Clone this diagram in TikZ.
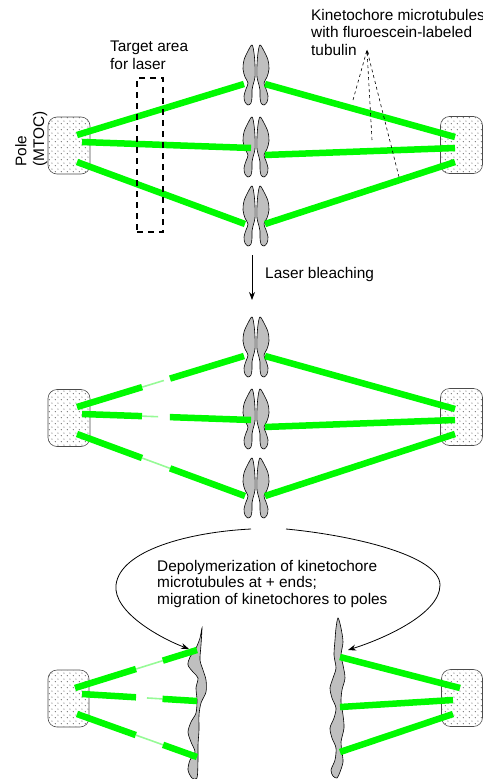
\documentclass[tikz,border=0pt]{standalone}
\usepackage{fontspec}
\setmainfont{Liberation Sans}
\usetikzlibrary{calc,arrows.meta,patterns.meta}

% sparse dot texture for the spindle poles
\tikzdeclarepattern{
  name=poledots,
  type=uncolored,
  bottom left={(0pt,0pt)},
  top right={(6pt,6pt)},
  tile size={(6pt,6pt)},
  code={
    \pgfpathcircle{\pgfpoint{1.5pt}{1.5pt}}{0.65pt}
    \pgfpathcircle{\pgfpoint{4.5pt}{4.5pt}}{0.65pt}
    \pgfusepath{fill}
  }
}

\definecolor{mtgreen}{RGB}{0,250,0}
\definecolor{fadegreen}{RGB}{150,250,150}

\tikzset{
  mt/.style={draw=mtgreen, line width=6.5pt},
  faded/.style={draw=fadegreen, line width=1.6pt},
  pole/.style={draw=black!70, line width=0.6pt, rounded corners=9pt,
    preaction={fill=white}, pattern=poledots, pattern color=black!65,
    minimum width=42pt, minimum height=57pt, inner sep=0pt},
  chromfill/.style={draw=black, line width=0.6pt, fill=gray!50},
  txt/.style={font=\fontsize{15.4}{17.5}\selectfont, align=left, inner sep=0pt},
  pointer/.style={-{Stealth[length=8pt,width=6pt]}, line width=0.8pt},
  guide/.style={line width=0.6pt, dash pattern=on 3pt off 3pt},
  laserbox/.style={draw, line width=2.2pt, dash pattern=on 6pt off 5pt,
    minimum width=26pt, minimum height=154pt, inner sep=0pt},
  chromatid/.pic={
    \path[chromfill] plot[smooth cycle, tension=0.55] coordinates {
      (-4,0) (-8,6) (-12,15) (-13,24) (-11,32) (-8,38) (-10,44) (-12,51)
      (-11,57) (-8,60) (-5,58) (-4,52) (-4,45) (-3,40) (-1,32) (-1,20) (-2,8)};
  },
  chromosome/.pic={
    \pic {chromatid};
    \pic[xscale=-1] {chromatid};
  }
}

\begin{document}
\begin{tikzpicture}[x=1pt, y=-1pt]
\useasboundingbox (0,0) rectangle (482,779);

% ---------- before bleaching ----------
\node[pole] (L1) at (69,145.5) {};
\node[pole] (R1) at (461.5,145) {};
\node[txt, rotate=90, anchor=base west] (polelabel) at (44,167) {Pole\\(MTOC)};

\pic at (256,45) {chromosome};
\pic at (256,117) {chromosome};
\pic at (256,186) {chromosome};

\coordinate (a1) at (77,135);  \coordinate (a2) at (82,142);  \coordinate (a3) at (77,162);
\coordinate (k1) at (244,84);  \coordinate (k2) at (251,148); \coordinate (k3) at (245,224);
\coordinate (r1) at (265,84);  \coordinate (r2) at (265,155); \coordinate (r3) at (265,224);
\coordinate (b1) at (455,137); \coordinate (b2) at (455,148); \coordinate (b3) at (455,162);
\foreach \i in {1,2,3} {
  \draw[mt] (a\i) -- (k\i);
  \draw[mt] (r\i) -- (b\i);
}

\node[laserbox] (zone) at (150,155) {};
\node[txt, anchor=base west] (zonelabel) at (110,69) {Target area\\for laser};

\node[txt, anchor=base west] (mtlabel) at (311,55)
  {Kinetochore microtubules\\with fluroescein-labeled\\tubulin};
\coordinate (apex) at (367,50);
\coordinate (g1) at (353,100);
\coordinate (g2) at (372,140);
\coordinate (g3) at (399,177);
\draw[guide] (g1) -- (apex);
\draw[guide] (g2) -- (apex);
\draw[guide] (g3) -- (apex);
\draw[-{Stealth[length=4pt,width=3.5pt]}, line width=0.6pt] ($(apex)!5pt!(g2)$) -- (apex);

% ---------- bleaching step ----------
\coordinate (bl0) at (252,255);
\coordinate (bl1) at (252,300);
\draw[pointer] (bl0) -- (bl1);
\node[txt, anchor=base west] (bleach) at (265,278) {Laser bleaching};

% ---------- after bleaching ----------
\node[pole] (L2) at (69,418) {};
\node[pole] (R2) at (461.5,417) {};

\pic at (256,317) {chromosome};
\pic at (256,389) {chromosome};
\pic at (256,458) {chromosome};

\coordinate (p1) at (77,407);  \coordinate (p2) at (82,414);  \coordinate (p3) at (77,434);
\coordinate (m1) at (244,356); \coordinate (m2) at (251,420); \coordinate (m3) at (245,496);
\coordinate (n1) at (265,356); \coordinate (n2) at (265,427); \coordinate (n3) at (265,496);
\coordinate (q1) at (455,409); \coordinate (q2) at (455,420); \coordinate (q3) at (455,434);

\draw[mt] (p1) -- ($(p1)!0.39!(m1)$);
\draw[faded] ($(p1)!0.39!(m1)$) -- ($(p1)!0.52!(m1)$);
\draw[mt] ($(p1)!0.557!(m1)$) -- (m1);

\draw[mt] (p2) -- ($(p2)!0.355!(m2)$);
\draw[faded] ($(p2)!0.355!(m2)$) -- ($(p2)!0.45!(m2)$);
\draw[mt] ($(p2)!0.52!(m2)$) -- (m2);

\draw[mt] (p3) -- ($(p3)!0.387!(m3)$);
\draw[faded] ($(p3)!0.387!(m3)$) -- ($(p3)!0.554!(m3)$);
\draw[mt] ($(p3)!0.554!(m3)$) -- (m3);

\foreach \i in {1,2,3} {
  \draw[mt] (n\i) -- (q\i);
}

% ---------- depolymerization ----------
\node[txt, anchor=base west, font=\fontsize{15.4}{16.2}\selectfont] (depol) at (157,604)
  {Depolymerization of kinetochore\\microtubules at + ends;\\migration of kinetochores to poles};

\coordinate (cl0) at (251,529);
\coordinate (cl1) at (189,649);
\draw[pointer] (cl0) .. controls (190,532) and (120,550) .. (116,585)
  .. controls (113,612) and (160,638) .. (cl1);

\coordinate (cr0) at (286,529);
\coordinate (cr1) at (348,650);
\draw[pointer] (cr0) .. controls (350,535) and (440,555) .. (440,585)
  .. controls (440,615) and (380,640) .. (cr1);

\node[pole, minimum width=41pt] (L3) at (68.5,698.5) {};
\node[pole, minimum width=41pt] (R3) at (462,698) {};

% separated chromatids near each pole
\path[chromfill] plot[smooth cycle, tension=0.5] coordinates {
  (202,628) (201,645) (200,660) (203,670) (206,680) (206,692) (201,703)
  (199,715) (199,730) (198,745) (198,760) (197,778) (192,778) (188,770)
  (190,760) (195,752) (191,742) (188,732) (191,722) (196,713) (197,700)
  (196,688) (198,678) (193,672) (188,665) (190,657) (196,648) (200,638)};
\path[chromfill] plot[smooth cycle, tension=0.5] coordinates {
  (338,618) (341,628) (343,642) (341,655) (343,665) (345,678) (342,690)
  (341,702) (343,715) (344,728) (341,742) (342,752) (343,762) (340,772)
  (337,778) (333,776) (331,770) (335,760) (336,748) (332,738) (330,728)
  (334,718) (336,708) (332,698) (330,688) (333,678) (336,668) (334,655)
  (335,640) (336,628)};

\coordinate (c1) at (75,688);  \coordinate (c2) at (82,694);  \coordinate (c3) at (77,714);
\coordinate (d1) at (197,650); \coordinate (d2) at (197,701); \coordinate (d3) at (197,757);
\coordinate (e1) at (340,657); \coordinate (e2) at (340,707); \coordinate (e3) at (340,752);
\coordinate (f1) at (460,688); \coordinate (f2) at (453,700); \coordinate (f3) at (453,714);

\draw[mt] (c1) -- ($(c1)!0.5!(d1)$);
\draw[faded] ($(c1)!0.5!(d1)$) -- ($(c1)!0.72!(d1)$);
\draw[mt] ($(c1)!0.72!(d1)$) -- (d1);

\draw[mt] (c2) -- ($(c2)!0.47!(d2)$);
\draw[faded] ($(c2)!0.565!(d2)$) -- ($(c2)!0.70!(d2)$);
\draw[mt] ($(c2)!0.70!(d2)$) -- (d2);

\draw[mt] (c3) -- ($(c3)!0.49!(d3)$);
\draw[faded] ($(c3)!0.49!(d3)$) -- ($(c3)!0.717!(d3)$);
\draw[mt] ($(c3)!0.717!(d3)$) -- (d3);

\foreach \i in {1,2,3} {
  \draw[mt] (e\i) -- (f\i);
}
\end{tikzpicture}
\end{document}
